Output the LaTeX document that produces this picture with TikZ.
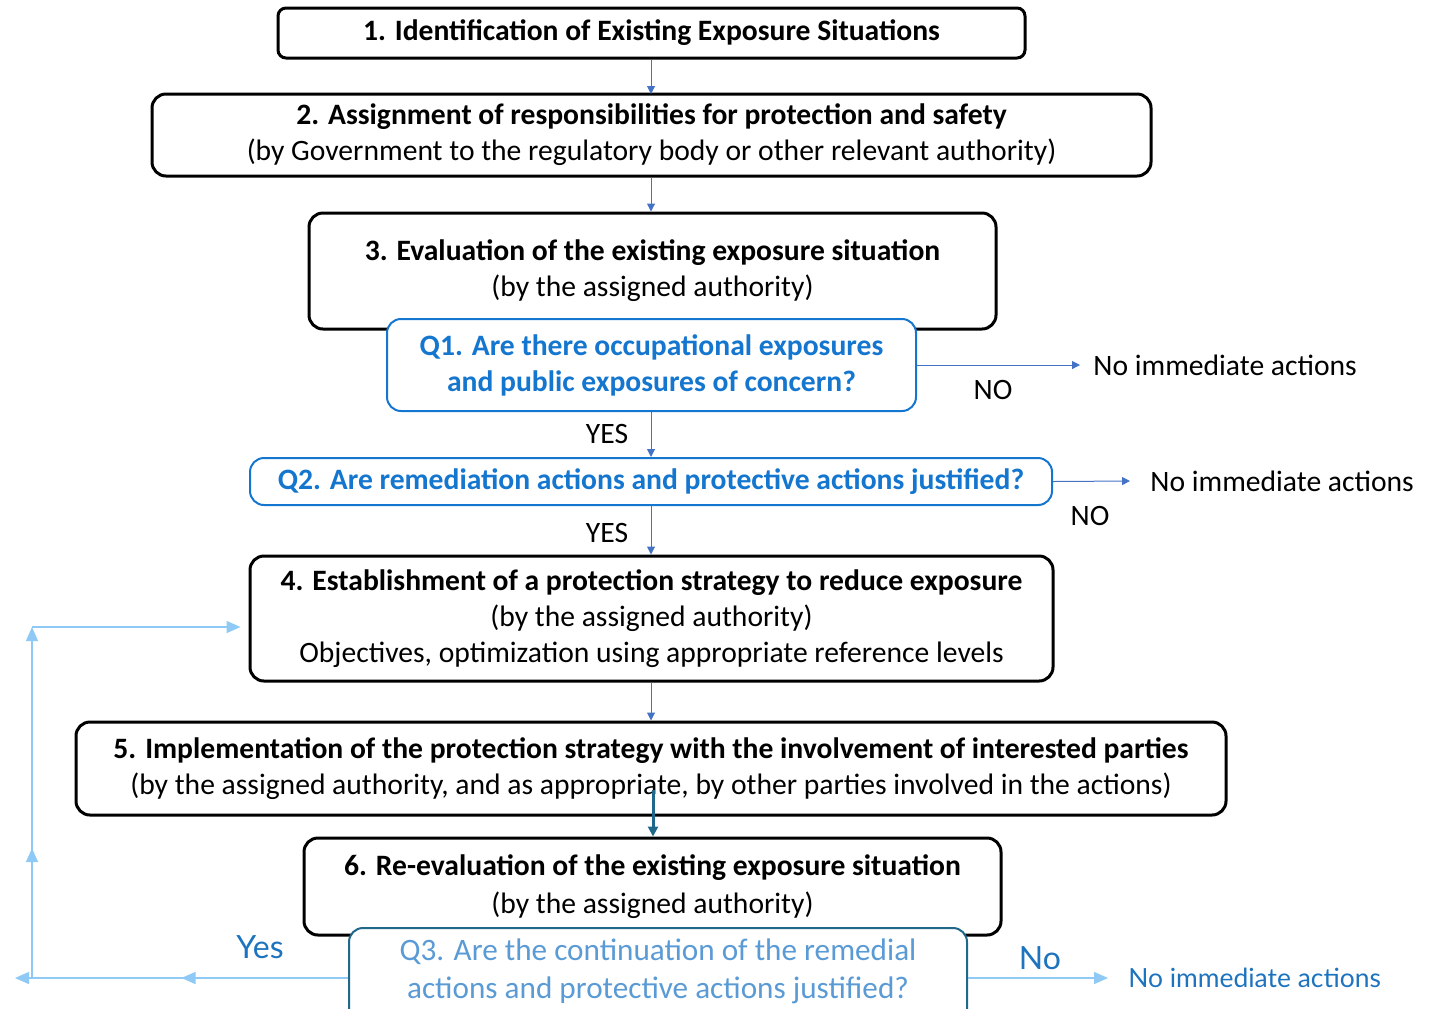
\documentclass[tikz,border=0pt]{standalone}
\usepackage{fontspec}
\setmainfont{Carlito}
\newfontfamily\labfont{Lato}
\usetikzlibrary{arrows.meta,decorations.markings}
\definecolor{qblue}{RGB}{20,118,206}
\definecolor{arrblue}{RGB}{68,114,196}
\definecolor{loopblue}{RGB}{142,202,245}
\definecolor{tealdark}{RGB}{31,104,138}
\definecolor{q3text}{RGB}{91,155,213}
\definecolor{labblue}{RGB}{30,115,190}
\begin{document}
\begin{tikzpicture}[x=0.5pt,y=-0.5pt,
  txt/.style={font={\fontsize{14.8}{18}\selectfont}},
  box/.style={draw=black, line width=1.5pt, rounded corners=7pt, fill=white, align=center, inner sep=0pt, txt},
  qbox/.style={draw=qblue, line width=1pt, rounded corners=7pt, fill=white, align=center, inner sep=0pt, text=qblue, font={\fontsize{14.8}{18}\selectfont\bfseries}},
  arr/.style={draw=arrblue, line width=0.5pt, -{Triangle[length=4pt,width=4pt]}},
  lb/.style={draw=loopblue, line width=0.7pt, -{Triangle[length=7pt,width=6pt]}},
  midarrow/.style={postaction={decorate}, decoration={markings, mark=at position #1 with {\arrow{Triangle[length=7pt,width=6pt]}}}},
  lab/.style={inner sep=0pt, txt},
]
\useasboundingbox (0,0) rectangle (1443,1008);
\clip (0,0) rectangle (1443,1008);

% boxes
\node[box, minimum width=373.5pt, minimum height=25pt, rounded corners=4pt] (b1) at (651.5,33)
  {\textbf{1. Identification of Existing Exposure Situations}};
\node[box, minimum width=499.5pt, minimum height=41pt] (b2) at (651.5,135)
  {\textbf{2. Assignment of responsibilities for protection and safety}\\(by Government to the regulatory body or other relevant authority)};
\node[box, minimum width=343.5pt, minimum height=58pt] (b3) at (652.5,271)
  {\textbf{3. Evaluation of the existing exposure situation}\\(by the assigned authority)};
\node[qbox, minimum width=264.5pt, minimum height=46pt] (q1) at (651.5,365)
  {Q1. Are there occupational exposures\\and public exposures of concern?};
\node[qbox, minimum width=401pt, minimum height=23.5pt] (q2) at (651,481.5)
  {Q2. Are remediation actions and protective actions justified?};
\node[box, minimum width=401.5pt, minimum height=62.5pt] (b4) at (651.5,618.5)
  {\textbf{4. Establishment of a protection strategy to reduce exposure}\\(by the assigned authority)\\Objectives, optimization using appropriate reference levels};
\node[box, minimum width=575pt, minimum height=46.5pt] (b5) at (651,768.5)
  {\textbf{5. Implementation of the protection strategy with the involvement of interested parties}\\(by the assigned authority, and as appropriate, by other parties involved in the actions)};
\node[box, minimum width=348.5pt, minimum height=48.5pt, font={\fontsize{14.8}{19}\selectfont}] (b6) at (652.5,886.5)
  {\textbf{6. Re-evaluation of the existing exposure situation}\\(by the assigned authority)};
\node[draw=tealdark, line width=1pt, rounded corners=7pt, fill=white, inner sep=0pt,
  minimum width=309pt, minimum height=49pt] (q3) at (658,977) {};
\node[align=center, inner sep=0pt, text=q3text, font={\fontsize{15.6}{19}\selectfont}] (q3t) at (658,971.5)
  {Q3. Are the continuation of the remedial\\actions and protective actions justified?};

% main vertical arrows
\draw[arr] (b1.south -| 651,0) -- (651,94);
\draw[arr] (b2.south -| 651,0) -- (b3.north -| 651,0);
\draw[arr] (q1.south -| 651,0) -- (q2.north -| 651,0);
\draw[arr] (q2.south -| 651,0) -- (b4.north -| 651,0);
\draw[arr] (b4.south -| 651,0) -- (b5.north -| 651,0);
\coordinate (s56) at (653,790);
\draw[draw=tealdark, line width=1.5pt, -{Triangle[length=5pt,width=5pt]}] (s56) -- (s56 |- b6.north);

% YES labels
\node[lab] (yes1) at (607,434) {YES};
\node[lab] (yes2) at (607,533) {YES};

% NO branches
\node[lab, anchor=west] (n1) at (1093,365) {No immediate actions};
\draw[arr] (q1.east) -- ([xshift=-6.5pt]n1.west);
\node[lab] (no1) at (993,390) {NO};
\node[lab, anchor=west] (n2) at (1150,481) {No immediate actions};
\draw[arr] (q2.east) -- ([xshift=-10pt]n2.west);
\node[lab] (no2) at (1090,516) {NO};

% Q3 branches
\node[inner sep=0pt, anchor=west, text=labblue, font={\labfont\fontsize{13.2}{15}\selectfont}] (n3) at (1128,978) {No immediate actions};
\draw[lb] (q3.east |- n3.west) -- ([xshift=-10pt]n3.west);
\node[inner sep=0pt, text=labblue, font={\labfont\fontsize{16}{18}\selectfont}] (no3) at (1040,958) {No};
\node[inner sep=0pt, text=labblue, font={\labfont\fontsize{16}{18}\selectfont}] (yes3) at (260,947) {Yes};

% feedback loop
\coordinate (L1) at (15,978);
\coordinate (L2) at (32,978);
\coordinate (L3) at (32,627);
\draw[lb, midarrow=0.5] (q3.west |- L1) -- (L1);
\draw[lb, midarrow=0.37] (L2) -- (L3);
\draw[lb, shorten >=4pt] (L3) -- (b4.west |- L3);
\end{tikzpicture}
\end{document}
